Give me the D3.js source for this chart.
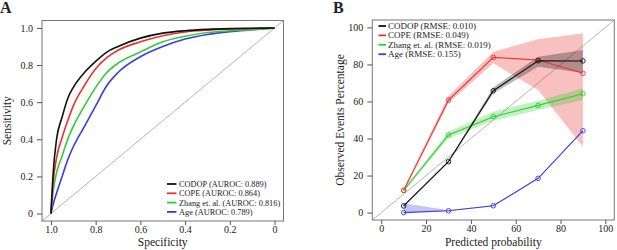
<!DOCTYPE html>
<html>
<head>
<meta charset="utf-8">
<script src="https://cdn.jsdelivr.net/npm/d3@7"></script>
<style>
  body { margin:0; background:#fff; }
</style>
</head>
<body>
<div id="chart"></div>
<script>
/* ── data: panel A, ROC curves (specificity grid → sensitivity) ── */
const rocSpec  = [1, 0.99, 0.975, 0.95, 0.925, 0.9, 0.85, 0.8, 0.75, 0.7, 0.6, 0.5, 0.4, 0.3, 0.2, 0.1, 0];
const codopSens = [0, 0.22, 0.40, 0.52, 0.62, 0.68, 0.76, 0.82, 0.87, 0.90, 0.945, 0.972, 0.985, 0.992, 0.996, 0.998, 1];
const copeSens  = [0, 0.17, 0.30, 0.41, 0.50, 0.58, 0.69, 0.78, 0.84, 0.88, 0.925, 0.958, 0.978, 0.988, 0.994, 0.997, 1];
const zhangSens = [0, 0.12, 0.22, 0.31, 0.40, 0.47, 0.58, 0.68, 0.76, 0.81, 0.87, 0.925, 0.955, 0.975, 0.985, 0.99, 1];
const ageSens   = [0, 0.05, 0.11, 0.20, 0.29, 0.36, 0.47, 0.58, 0.69, 0.76, 0.845, 0.90, 0.94, 0.965, 0.98, 0.99, 1];
const rocLabels = ['CODOP (AUROC: 0.889)', 'COPE (AUROC: 0.864)', 'Zhang et. al. (AUROC: 0.816)', 'Age (AUROC: 0.789)'];

/* ── data: panel B, calibration ── */
const calBins   = [10, 30, 50, 70, 90];
const codopObs  = [3.6, 27.5, 65.8, 82.0, 81.9];
const codopLo   = [3.0, 27.0, 64.4, 78.8, 75.5];
const codopHi   = [4.2, 28.0, 67.6, 84.2, 87.8];
const copeObs   = [12.0, 60.8, 83.8, 82.4, 75.2];
const copeLo    = [11.0, 59.0, 80.6, 66.2, 35.6];
const copeHi    = [13.0, 63.0, 86.9, 93.6, 96.8];
const zhangObs  = [12.0, 41.9, 51.8, 57.9, 64.2];
const zhangLo   = [11.5, 40.1, 49.6, 55.4, 60.8];
const zhangHi   = [12.5, 43.7, 54.5, 60.4, 67.1];
const ageObs    = [0.0, 1.0, 3.7, 18.5, 44.2];
const ageLo     = [0.0, 0.8, 3.5, 18.3, 44.0];
const ageHi     = [5.0, 1.2, 4.0, 18.7, 44.4];
const calLabels = ['CODOP (RMSE: 0.010)', 'COPE (RMSE: 0.049)', 'Zhang et. al. (RMSE: 0.019)', 'Age (RMSE: 0.155)'];

const colors = ['#111111', '#e8332f', '#33cc33', '#3a3ae6'];
const SERIF = '"Liberation Serif", "Times New Roman", Times, serif';

const svg = d3.select('#chart').append('svg')
  .attr('width', 617).attr('height', 250);

/* ── helpers ── */
function frame(g, x0, x1, y0, y1){
  g.append('rect')
   .attr('x', x0).attr('y', y0)
   .attr('width', x1 - x0).attr('height', y1 - y0)
   .attr('fill', 'none').attr('stroke', '#777').attr('stroke-width', 1);
}
function styleAxis(sel){
  sel.select('.domain').remove();
  sel.selectAll('line').attr('stroke', '#555');
  sel.selectAll('text').attr('font-size', 10).attr('fill', '#222');
}

/* ────────────────────────────────────────────
   A.  ROC
   ────────────────────────────────────────────*/
const A = {l:42, r:283.5, t:20.5, b:221};
const xA = d3.scaleLinear().domain([1.04, -0.04]).range([A.l, A.r]);
const yA = d3.scaleLinear().domain([-0.04, 1.04]).range([A.b, A.t]);
const gA = svg.append('g');

// diagonal reference
gA.append('line')
  .attr('x1', xA(1.04)).attr('y1', yA(-0.04))
  .attr('x2', xA(-0.04)).attr('y2', yA(1.04))
  .attr('stroke', '#b5b5b5').attr('stroke-width', 1);

const rocLine = d3.line().x(d => xA(d[0])).y(d => yA(d[1])).curve(d3.curveMonotoneX);
// draw weakest first so CODOP sits on top
[ageSens, zhangSens, copeSens, codopSens].forEach((s, k) => {
  const i = 3 - k;
  gA.append('path')
    .datum(rocSpec.map((sp, j) => [sp, s[j]]))
    .attr('fill', 'none')
    .attr('stroke', colors[i])
    .attr('stroke-width', 1.6)
    .attr('d', rocLine);
});

frame(gA, A.l, A.r, A.t, A.b);

gA.append('g').attr('transform', `translate(0,${A.b})`)
  .call(d3.axisBottom(xA).tickValues([1, 0.8, 0.6, 0.4, 0.2, 0])
        .tickFormat(d => d === 0 ? '0' : d3.format('.1f')(d)).tickSize(4).tickPadding(1))
  .call(styleAxis);
gA.append('g').attr('transform', `translate(${A.l},0)`)
  .call(d3.axisLeft(yA).tickValues([0, 0.2, 0.4, 0.6, 0.8, 1])
        .tickFormat(d => d === 0 ? '0' : d3.format('.1f')(d)).tickSize(5).tickPadding(4))
  .call(styleAxis);

gA.append('text').attr('x', 162.7).attr('y', 245.5)
  .attr('text-anchor', 'middle').attr('font-size', 11.5).text('Specificity');
gA.append('text').attr('transform', `translate(11,${(A.t + A.b) / 2}) rotate(-90)`)
  .attr('text-anchor', 'middle').attr('font-size', 11.5).text('Sensitivity');
gA.append('text').attr('x', 0).attr('y', 13)
  .attr('font-size', 16).attr('font-weight', 'bold').text('A');

// legend A
rocLabels.forEach((t, i) => {
  const y = 184 + i * 9.3;
  gA.append('line').attr('x1', 167).attr('x2', 176.5).attr('y1', y).attr('y2', y)
    .attr('stroke', colors[i]).attr('stroke-width', 1.8);
  gA.append('text').attr('x', 179).attr('y', y + 3)
    .attr('font-size', 8.3).text(t);
});

/* ────────────────────────────────────────────
   B.  Calibration
   ────────────────────────────────────────────*/
const B = {l:372.3, r:614.3, t:20, b:220};
const xB = d3.scaleLinear().domain([-4, 104]).range([B.l, B.r]);
const yB = d3.scaleLinear().domain([-4, 104]).range([B.b, B.t]);
const gB = svg.append('g');

gB.append('line')
  .attr('x1', xB(-4)).attr('y1', yB(-4))
  .attr('x2', xB(104)).attr('y2', yB(104))
  .attr('stroke', '#b5b5b5').attr('stroke-width', 1);

const series = [
  {obs: codopObs, lo: codopLo, hi: codopHi},
  {obs: copeObs,  lo: copeLo,  hi: copeHi},
  {obs: zhangObs, lo: zhangLo, hi: zhangHi},
  {obs: ageObs,   lo: ageLo,   hi: ageHi}
];

const band = d3.area().x((d, j) => xB(calBins[j])).y0(d => yB(d[0])).y1(d => yB(d[1]));
const calLine = d3.line().x((d, j) => xB(calBins[j])).y(d => yB(d));

[1, 2, 3, 0].forEach(i => {
  const s = series[i];
  gB.append('path')
    .datum(s.lo.map((v, j) => [v, s.hi[j]]))
    .attr('d', band)
    .attr('fill', colors[i]).attr('fill-opacity', 0.3);
});
[3, 2, 1, 0].forEach(i => {
  const s = series[i];
  gB.append('path').datum(s.obs).attr('d', calLine)
    .attr('fill', 'none').attr('stroke', colors[i]).attr('stroke-width', 1.1);
  gB.selectAll(`.pt${i}`).data(s.obs).enter().append('circle')
    .attr('class', `pt${i}`)
    .attr('cx', (d, j) => xB(calBins[j])).attr('cy', d => yB(d))
    .attr('r', 2.3).attr('fill', 'none')
    .attr('stroke', colors[i]).attr('stroke-width', 0.9);
});

frame(gB, B.l, B.r, B.t, B.b);

gB.append('g').attr('transform', `translate(0,${B.b})`)
  .call(d3.axisBottom(xB).tickValues([0, 20, 40, 60, 80, 100]).tickSize(4).tickPadding(1))
  .call(styleAxis);
gB.append('g').attr('transform', `translate(${B.l},0)`)
  .call(d3.axisLeft(yB).tickValues([0, 20, 40, 60, 80, 100]).tickSize(5).tickPadding(4))
  .call(styleAxis);

gB.append('text').attr('x', (B.l + B.r) / 2).attr('y', 245.5)
  .attr('text-anchor', 'middle').attr('font-size', 11.5).text('Predicted probability');
gB.append('text').attr('transform', `translate(344,${(B.t + B.b) / 2}) rotate(-90)`)
  .attr('text-anchor', 'middle').attr('font-size', 11.5).text('Observed Events Percentage');
gB.append('text').attr('x', 333).attr('y', 13)
  .attr('font-size', 16).attr('font-weight', 'bold').text('B');

// legend B
calLabels.forEach((t, i) => {
  const y = 26 + i * 9.4;
  gB.append('line').attr('x1', 378.5).attr('x2', 386).attr('y1', y).attr('y2', y)
    .attr('stroke', colors[i]).attr('stroke-width', 1.8);
  gB.append('text').attr('x', 388).attr('y', y + 3)
    .attr('font-size', 9).text(t);
});

// serif everywhere (d3 axes set their own sans-serif family)
svg.selectAll('text').style('font-family', SERIF).attr('fill', '#222');
</script>
</body>
</html>
